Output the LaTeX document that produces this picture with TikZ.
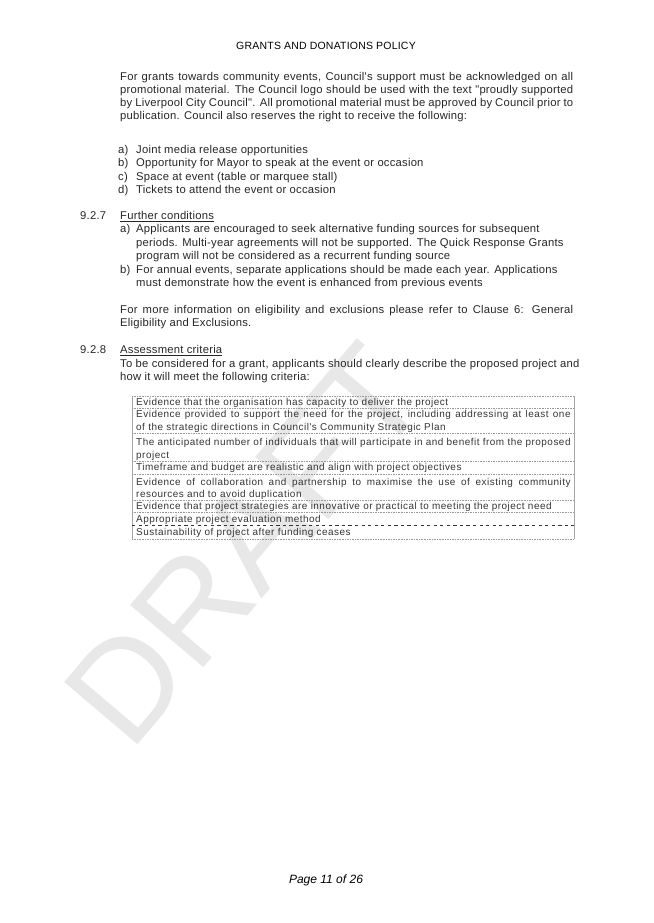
\documentclass[tikz,border=0pt]{standalone}
\usepackage{fontspec}
\setmainfont{Liberation Sans}
\newfontfamily\bodyfont[LetterSpace=2]{Liberation Sans}
\newfontfamily\tabfont[LetterSpace=5]{Liberation Sans}
\newcommand{\jl}[2]{\makebox[#1][s]{#2}}
\begin{document}
\begin{tikzpicture}[x=0.9116bp,y=-0.9116bp,
  tx/.style={anchor=base west,yshift=-3.3pt,inner sep=0pt,font=\bodyfont\fontsize{10.3}{11}\selectfont,text=black!85},
  tb/.style={anchor=base west,yshift=-3pt,inner sep=0pt,font=\tabfont\fontsize{9.1}{10}\selectfont,text=black!80},
  rowline/.style={densely dotted,gray!80,line width=0.5pt}]
\useasboundingbox (0,0) rectangle (653,923);
\node[rotate=49.7,text=gray!18,font=\fontsize{128}{128}\selectfont] (wm) at (245,545) {DRAFT};
\node[inner sep=0pt,font=\bodyfont\fontsize{9.6}{10}\selectfont] (hd) at (326,46) {GRANTS AND DONATIONS POLICY};
\node[tx] (p1) at (120,77) {\jl{413bp}{For grants towards community events, Council's support must be acknowledged on all}};
\node[tx] (p2) at (120,90) {\jl{413bp}{promotional material. The Council logo should be used with the text "proudly supported}};
\node[tx] (p3) at (120,103) {\jl{413bp}{by Liverpool City Council". All promotional material must be approved by Council prior to}};
\node[tx] (p4) at (120,116) {publication. Council also reserves the right to receive the following:};
\node[tx] (la) at (118,150) {a)}; \node[tx] (ta) at (136,150) {Joint media release opportunities};
\node[tx] (lb) at (118,163) {b)}; \node[tx] (tb) at (136,163) {Opportunity for Mayor to speak at the event or occasion};
\node[tx] (lc) at (118,177) {c)}; \node[tx] (tc) at (136,177) {Space at event (table or marquee stall)};
\node[tx] (ld) at (118,190) {d)}; \node[tx] (td) at (136,190) {Tickets to attend the event or occasion};
\node[tx] (s7) at (80,216) {9.2.7}; \node[tx] (h7) at (120,216) {\underline{Further conditions}};
\node[tx] (l7a) at (120,229) {a)};
\node[tx] (t7a1) at (136,229) {Applicants are encouraged to seek alternative funding sources for subsequent};
\node[tx] (t7a2) at (136,243) {periods. Multi-year agreements will not be supported. The Quick Response Grants};
\node[tx] (t7a3) at (136,256) {program will not be considered as a recurrent funding source};
\node[tx] (l7b) at (120,270) {b)};
\node[tx] (t7b1) at (136,270) {For annual events, separate applications should be made each year. Applications};
\node[tx] (t7b2) at (136,283) {must demonstrate how the event is enhanced from previous events};
\node[tx] (m1) at (120,310) {\jl{413bp}{For more information on eligibility and exclusions please refer to Clause 6: General}};
\node[tx] (m2) at (120,323) {Eligibility and Exclusions.};
\node[tx] (s8) at (80,350) {9.2.8}; \node[tx] (h8) at (120,350) {\underline{Assessment criteria}};
\node[tx] (c1) at (120,364) {To be considered for a grant, applicants should clearly describe the proposed project and};
\node[tx] (c2) at (120,377) {how it will meet the following criteria:};
% table
\draw[gray!70,line width=0.5pt] (132,396) -- (132,539);
\draw[gray!70,line width=0.5pt] (574,396) -- (574,539);
\foreach \y in {396,408,433,461,474,500,512,539} \draw[rowline] (132,\y) -- (574,\y);
\draw[dashed,black!80,line width=0.6pt] (132,525) -- (574,525);
\node[tb] (r1) at (136,402) {Evidence that the organisation has capacity to deliver the project};
\node[tb] (r2a) at (136,414) {\jl{396bp}{Evidence provided to support the need for the project, including addressing at least one}};
\node[tb] (r2b) at (136,427) {of the strategic directions in Council's Community Strategic Plan};
\node[tb] (r3a) at (136,442) {\jl{396bp}{The anticipated number of individuals that will participate in and benefit from the proposed}};
\node[tb] (r3b) at (136,455) {project};
\node[tb] (r4) at (136,467) {Timeframe and budget are realistic and align with project objectives};
\node[tb] (r5a) at (136,482) {\jl{396bp}{Evidence of collaboration and partnership to maximise the use of existing community}};
\node[tb] (r5b) at (136,494) {resources and to avoid duplication};
\node[tb] (r6) at (136,506) {Evidence that project strategies are innovative or practical to meeting the project need};
\node[tb] (r7) at (136,519) {Appropriate project evaluation method};
\node[tb] (r8) at (136,532) {Sustainability of project after funding ceases};
\node[inner sep=0pt,font=\fontsize{11}{12}\itshape\selectfont] (ft) at (326,880) {Page 11 of 26};
\end{tikzpicture}
\end{document}
